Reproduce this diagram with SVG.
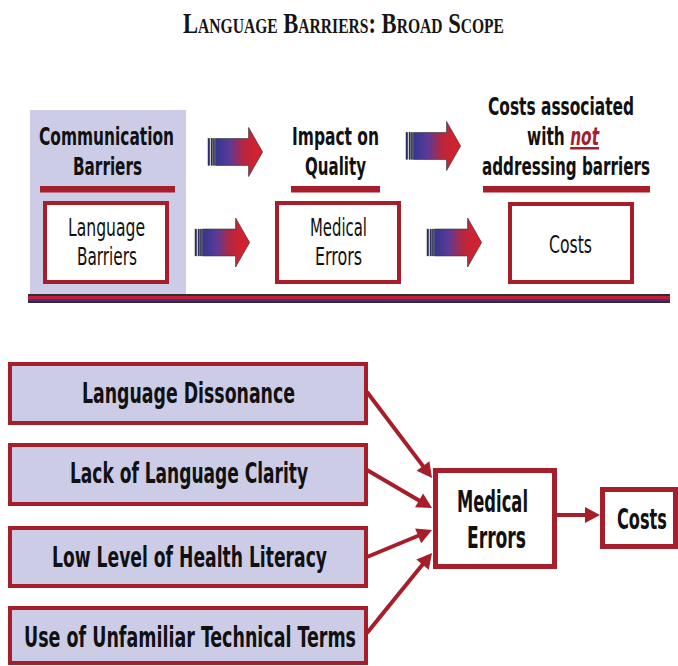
<svg xmlns="http://www.w3.org/2000/svg" width="678" height="666" viewBox="0 0 678 666">
  <style>
    .title { font-family: "Liberation Serif", "Times New Roman", serif; font-weight: bold; fill: #151515; font-variant: small-caps; }
    .hb { font-family: "DejaVu Sans Condensed", "DejaVu Sans", sans-serif; font-weight: bold; fill: #111; text-anchor: middle; }
    .hr { font-family: "DejaVu Sans Condensed", "DejaVu Sans", sans-serif; font-weight: normal; fill: #111; text-anchor: middle; }
    .panel { fill: #CCCCE6; }
    .bar { fill: #A51E2A; }
    .box { fill: #FFFFFF; stroke: #A51E2A; stroke-width: 4; }
    .lbox { fill: #CCCCE6; stroke: #A51E2A; stroke-width: 4; }
    .wire { fill: none; stroke: #A51E2A; stroke-width: 4; }
    .neg { fill: #A51E2A; font-style: italic; text-decoration: underline; }
  </style>
  <defs>
    <linearGradient id="arrowFill" gradientUnits="userSpaceOnUse" x1="7" y1="0" x2="48" y2="0">
      <stop offset="0" stop-color="#34358F"/>
      <stop offset="0.35" stop-color="#5B3A98"/>
      <stop offset="0.7" stop-color="#B8263E"/>
      <stop offset="1" stop-color="#D22230"/>
    </linearGradient>
    <g id="fatArrow">
      <rect x="0" y="-13.4" width="1.7" height="26.8" fill="#2C2C7E" stroke="#333" stroke-width="0.5"/>
      <rect x="3" y="-13.4" width="1.4" height="26.8" fill="#2C2C7E" stroke="#333" stroke-width="0.5"/>
      <rect x="5.2" y="-13.4" width="1.4" height="26.8" fill="#2C2C7E" stroke="#333" stroke-width="0.5"/>
      <path d="M7.3,-13.4 H40.6 V-24.5 L54.6,0 L40.6,24.5 V13.4 H7.3 Z" fill="url(#arrowFill)" stroke="#3a3a3a" stroke-width="0.7"/>
    </g>
    <marker id="head" markerUnits="userSpaceOnUse" markerWidth="20" markerHeight="20" viewBox="0 -10 16 20" refX="2" refY="0" orient="auto">
      <path d="M0,-8 L15,0 L0,8 Z" fill="#A51E2A"/>
    </marker>
  </defs>

  <!-- heading -->
  <text class="title" x="183" y="33" font-size="29" textLength="321" lengthAdjust="spacingAndGlyphs">Language Barriers:  Broad Scope</text>

  <!-- upper panel: column headings and boxes -->
  <g id="col-communication">
    <rect class="panel" x="30" y="110" width="156" height="186"/>
    <text class="hb" x="106.5" y="145" font-size="25" textLength="135" lengthAdjust="spacingAndGlyphs">Communication</text>
    <text class="hb" x="107.5" y="175" font-size="25" textLength="69" lengthAdjust="spacingAndGlyphs">Barriers</text>
    <rect class="bar" x="40" y="186" width="135" height="6.5"/>
  </g>
  <g id="node-language-barriers">
    <rect class="box" x="45" y="203" width="122" height="79"/>
    <text class="hr" x="106.5" y="236" font-size="24" textLength="77" lengthAdjust="spacingAndGlyphs">Language</text>
    <text class="hr" x="107" y="265" font-size="24" textLength="60" lengthAdjust="spacingAndGlyphs">Barriers</text>
  </g>

  <g id="col-quality">
    <text class="hb" x="335.5" y="145" font-size="25" textLength="87" lengthAdjust="spacingAndGlyphs">Impact on</text>
    <text class="hb" x="335.5" y="175" font-size="25" textLength="61" lengthAdjust="spacingAndGlyphs">Quality</text>
    <rect class="bar" x="291" y="186" width="89" height="6.5"/>
  </g>
  <g id="node-medical-errors-top">
    <rect class="box" x="277" y="203" width="122" height="79"/>
    <text class="hr" x="338.5" y="236" font-size="24" textLength="57" lengthAdjust="spacingAndGlyphs">Medical</text>
    <text class="hr" x="338.5" y="265" font-size="24" textLength="47" lengthAdjust="spacingAndGlyphs">Errors</text>
  </g>

  <g id="col-costs">
    <text class="hb" x="561" y="115" font-size="25" textLength="146" lengthAdjust="spacingAndGlyphs">Costs associated</text>
    <text class="hb" x="563" y="145" font-size="25" textLength="72" lengthAdjust="spacingAndGlyphs">with <tspan class="neg">not</tspan></text>
    <text class="hb" x="566" y="175" font-size="25" textLength="168" lengthAdjust="spacingAndGlyphs">addressing barriers</text>
    <rect class="bar" x="483" y="186" width="167" height="6.5"/>
  </g>
  <g id="node-costs-top">
    <rect class="box" x="510" y="204" width="122" height="78"/>
    <text class="hr" x="570.5" y="253" font-size="24" textLength="43" lengthAdjust="spacingAndGlyphs">Costs</text>
  </g>

  <!-- rule under the upper panel -->
  <g id="rule">
    <rect x="28" y="294" width="642" height="9" fill="#2E2E2E"/>
    <rect x="28" y="296" width="642" height="3" fill="#C0203A"/>
    <rect x="28" y="299" width="642" height="2.2" fill="#5A2A7A"/>
  </g>

  <!-- fat gradient arrows between columns -->
  <g id="flow-arrows">
    <use href="#fatArrow" transform="translate(208,152)"/>
    <use href="#fatArrow" transform="translate(195,242.5)"/>
    <use href="#fatArrow" transform="translate(406,146)"/>
    <use href="#fatArrow" transform="translate(427,242.5)"/>
  </g>

  <!-- lower diagram: causes -->
  <g id="node-dissonance">
    <rect class="lbox" x="10" y="364" width="356" height="59"/>
    <text class="hb" x="188.5" y="403" font-size="29" textLength="213" lengthAdjust="spacingAndGlyphs">Language Dissonance</text>
  </g>
  <g id="node-clarity">
    <rect class="lbox" x="10" y="445" width="356" height="59"/>
    <text class="hb" x="189" y="483" font-size="29" textLength="238" lengthAdjust="spacingAndGlyphs">Lack of Language Clarity</text>
  </g>
  <g id="node-literacy">
    <rect class="lbox" x="10" y="528" width="356" height="58"/>
    <text class="hb" x="189.5" y="567" font-size="29" textLength="275" lengthAdjust="spacingAndGlyphs">Low Level of Health Literacy</text>
  </g>
  <g id="node-terms">
    <rect class="lbox" x="10" y="608" width="356" height="55"/>
    <text class="hb" x="190" y="647" font-size="29" textLength="332" lengthAdjust="spacingAndGlyphs">Use of Unfamiliar Technical Terms</text>
  </g>

  <g id="node-medical-errors">
    <rect class="box" x="435.5" y="470.5" width="119" height="96" style="stroke-width:5"/>
    <text class="hb" x="492.5" y="512" font-size="30" textLength="71" lengthAdjust="spacingAndGlyphs">Medical</text>
    <text class="hb" x="496.5" y="548" font-size="30" textLength="59" lengthAdjust="spacingAndGlyphs">Errors</text>
  </g>
  <g id="node-costs">
    <rect class="box" x="602.5" y="489.5" width="73" height="57" style="stroke-width:5"/>
    <text class="hb" x="642" y="529" font-size="28" textLength="50" lengthAdjust="spacingAndGlyphs">Costs</text>
  </g>

  <!-- connectors -->
  <g id="connectors">
    <line class="wire" x1="367" y1="392" x2="424.2" y2="467.6" marker-end="url(#head)"/>
    <line class="wire" x1="367" y1="470" x2="420.8" y2="501.4" marker-end="url(#head)"/>
    <line class="wire" x1="367" y1="557" x2="420" y2="535" marker-end="url(#head)"/>
    <line class="wire" x1="367" y1="633" x2="423.8" y2="563.1" marker-end="url(#head)"/>
    <line class="wire" x1="557" y1="515" x2="587" y2="515" marker-end="url(#head)"/>
  </g>
</svg>
